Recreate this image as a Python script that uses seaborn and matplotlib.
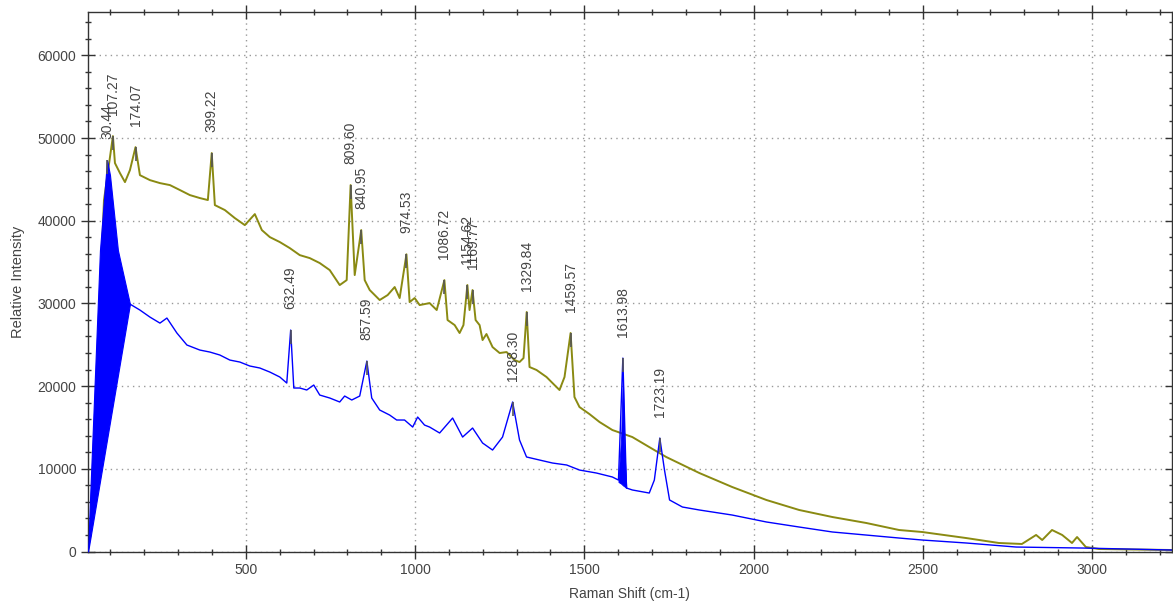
import matplotlib
matplotlib.use("Agg")
import matplotlib.pyplot as plt
import numpy as np
import pandas as pd
import seaborn as sns
from matplotlib.ticker import MultipleLocator

# olive spectrum (Raman shift cm-1, intensity)
olive_x = [39.6, 80.9, 107.27, 113.3, 128.1, 142.9, 157.6, 174.07, 187.1, 216.6,
           246.2, 275.7, 305.2, 334.7, 364.2, 387.8, 399.22, 408.5, 438, 467.5,
           497, 526.6, 547.3, 570.9, 600.4, 629.9, 659.4, 688.9, 718.4, 747.9,
           777.4, 798, 809.6, 821.7, 840.95, 851.2, 866, 895.5, 919, 939.8,
           954.5, 974.53, 984, 998.8, 1013.6, 1043, 1064, 1086.72, 1096, 1117,
           1131.6, 1143, 1154.62, 1161, 1169.77, 1178.9, 1190.7, 1199.5, 1211, 1229,
           1250, 1270.4, 1294, 1308.7, 1320.5, 1329.84, 1338.2, 1358.9, 1388.4, 1412,
           1426.8, 1441.6, 1459.57, 1471, 1485.8, 1515.3, 1545, 1583, 1642, 1692,
           1742, 1840, 1937, 2038, 2135, 2233, 2333, 2430, 2498, 2628,
           2725, 2793, 2835, 2853, 2882, 2912, 2941, 2956, 2982, 3021, 3236]
olive_y = [1390, 42500, 50230, 46970, 45760, 44670, 46120, 48900, 45510, 44910,
           44550, 44310, 43710, 43100, 42740, 42500, 48180, 41890, 41290, 40320,
           39470, 40800, 38870, 38020, 37420, 36690, 35840, 35480, 34880, 34030,
           32220, 32820, 44310, 33430, 38870, 32820, 31620, 30410, 31010, 31980,
           30650, 35940, 30160, 30650, 29800, 30040, 29200, 32820, 27990, 27380,
           26420, 27380, 32220, 29200, 31620, 27990, 27380, 25570, 26300, 24720,
           24000, 24120, 23150, 22910, 23390, 28960, 22310, 21950, 21100, 20130,
           19530, 21100, 26420, 18680, 17470, 16620, 15660, 14690, 13840, 12630,
           11430, 9490, 7800, 6230, 5020, 4170, 3450, 2600, 2360, 1630,
           1030, 910, 2000, 1390, 2600, 2000, 1030, 1750, 540, 300, 180]

# blue spectrum
blue_x = [157.6, 187, 216.6, 246.2, 266.8, 296.3, 325.9, 364.2, 393.7, 423.2,
          452.8, 482.3, 511.8, 541.3, 570.9, 600.4, 621, 632.49, 641.7, 659.4,
          680, 700.7, 718.4, 748, 777.4, 792, 813, 836.5, 857.59, 872,
          895.5, 925, 945.7, 969, 993, 1007.7, 1028, 1043, 1072.6, 1093,
          1111, 1140.5, 1170, 1199.5, 1229, 1258.5, 1273, 1288.3, 1308.7, 1329.4,
          1368, 1406, 1448, 1486, 1536, 1583, 1601, 1613.98, 1624.6, 1642,
          1692, 1707, 1723.19, 1737, 1752, 1790, 1840, 1937, 2038, 2135,
          2233, 2333, 2430, 2498, 2628, 2776, 2971, 3236]
blue_y = [29920, 29200, 28350, 27620, 28230, 26420, 24970, 24360, 24120, 23760,
          23150, 22910, 22430, 22190, 21700, 21100, 20370, 26780, 19770, 19770,
          19530, 20130, 18920, 18560, 18080, 18800, 18320, 18800, 23030, 18560,
          17110, 16500, 15900, 15900, 15050, 16260, 15290, 15050, 14330, 15290,
          16140, 13840, 14930, 13120, 12270, 13840, 15900, 18080, 13480, 11430,
          11060, 10700, 10460, 9850, 9490, 9010, 8640, 23390, 7680, 7440,
          7070, 8640, 13720, 9850, 6230, 5380, 5020, 4410, 3570, 2960,
          2360, 1990, 1630, 1390, 1030, 540, 420, 180]

# dense low-shift region of the blue trace (drawn as a band)
blue_band_x = [34, 39.6, 69, 90, 98.6, 122, 157.6]
blue_band_top = [0, 6230, 36430, 47330, 45520, 36430, 29920]
blue_band_low = [0, 1356, 8470, 13560, 15640, 21300, 29920]

# dense base of the 1613.98 band
band2_x = [1601, 1609, 1613.98, 1619, 1624.6]
band2_top = [8640, 14000, 21500, 12000, 7680]
band2_low = [8400, 8200, 8000, 7850, 7680]

# picked peaks
peak_labels = ["30.44", "107.27", "174.07", "399.22", "632.49", "809.60",
               "840.95", "857.59", "974.53", "1086.72", "1154.62", "1169.77",
               "1288.30", "1329.84", "1459.57", "1613.98", "1723.19"]
peak_x = [90, 107.27, 174.07, 399.22, 632.49, 809.60, 840.95, 857.59, 974.53,
          1086.72, 1154.62, 1169.77, 1288.30, 1329.84, 1459.57, 1613.98, 1723.19]
peak_y = [47330, 50230, 48900, 48180, 26780, 44310, 38870, 23030, 35940,
          32820, 32220, 31620, 18080, 28960, 26420, 23390, 13720]

olive = "#8a8a12"
blue = "#0000ff"

sns.set_style("ticks")
plt.rcParams['font.family'] = ['Liberation Sans', 'DejaVu Sans']

fig = plt.figure(figsize=(11.73, 6.03), dpi=100)
ax = fig.add_axes([0.075, 0.0854, 0.924, 0.8947])

df_olive = pd.DataFrame({"shift": olive_x, "intensity": olive_y})
df_blue = pd.DataFrame({"shift": blue_x, "intensity": blue_y})

sns.lineplot(data=df_olive, x="shift", y="intensity", color=olive, lw=1.4, ax=ax, zorder=2)
ax.fill_between(blue_band_x, blue_band_low, blue_band_top, color=blue, lw=0.8, zorder=3)
ax.fill_between(band2_x, band2_low, band2_top, color=blue, lw=0.6, zorder=3)
sns.lineplot(data=df_blue, x="shift", y="intensity", color=blue, lw=1.0, ax=ax, zorder=3)

# peak markers and labels
ax.vlines(peak_x, np.array(peak_y) - 1700, peak_y, color="#555555", lw=1.2, zorder=4)
for lab, px, py in zip(peak_labels, peak_x, peak_y):
    ax.annotate(lab, (px, py), xytext=(0, 15), textcoords="offset points",
                rotation=90, ha="center", va="bottom", fontsize=10, color="#444444")

ax.set_xlim(33.6, 3236)
ax.set_ylim(0, 65240)
ax.xaxis.set_major_locator(MultipleLocator(500))
ax.xaxis.set_minor_locator(MultipleLocator(100))
ax.yaxis.set_major_locator(MultipleLocator(10000))
ax.yaxis.set_minor_locator(MultipleLocator(2000))
ax.tick_params(which="major", direction="inout", length=10, width=1, colors="#333333",
               labelsize=10, labelcolor="#444444", top=True, right=True)
ax.tick_params(which="minor", direction="inout", length=5, width=1, colors="#333333",
               top=True, right=True)
ax.grid(True, which="major", color="#999999", ls=(0, (1, 3)), lw=1)
for s in ax.spines.values():
    s.set_color("#333333")
    s.set_linewidth(1)

ax.set_xlabel("Raman Shift (cm-1)", fontsize=10, color="#444444")
ax.set_ylabel("Relative Intensity", fontsize=10.5, color="#444444")
ax.xaxis.set_label_coords(0.5, -0.066)
ax.yaxis.set_label_coords(-0.058, 0.5)

fig.savefig("out.png", dpi=100)
